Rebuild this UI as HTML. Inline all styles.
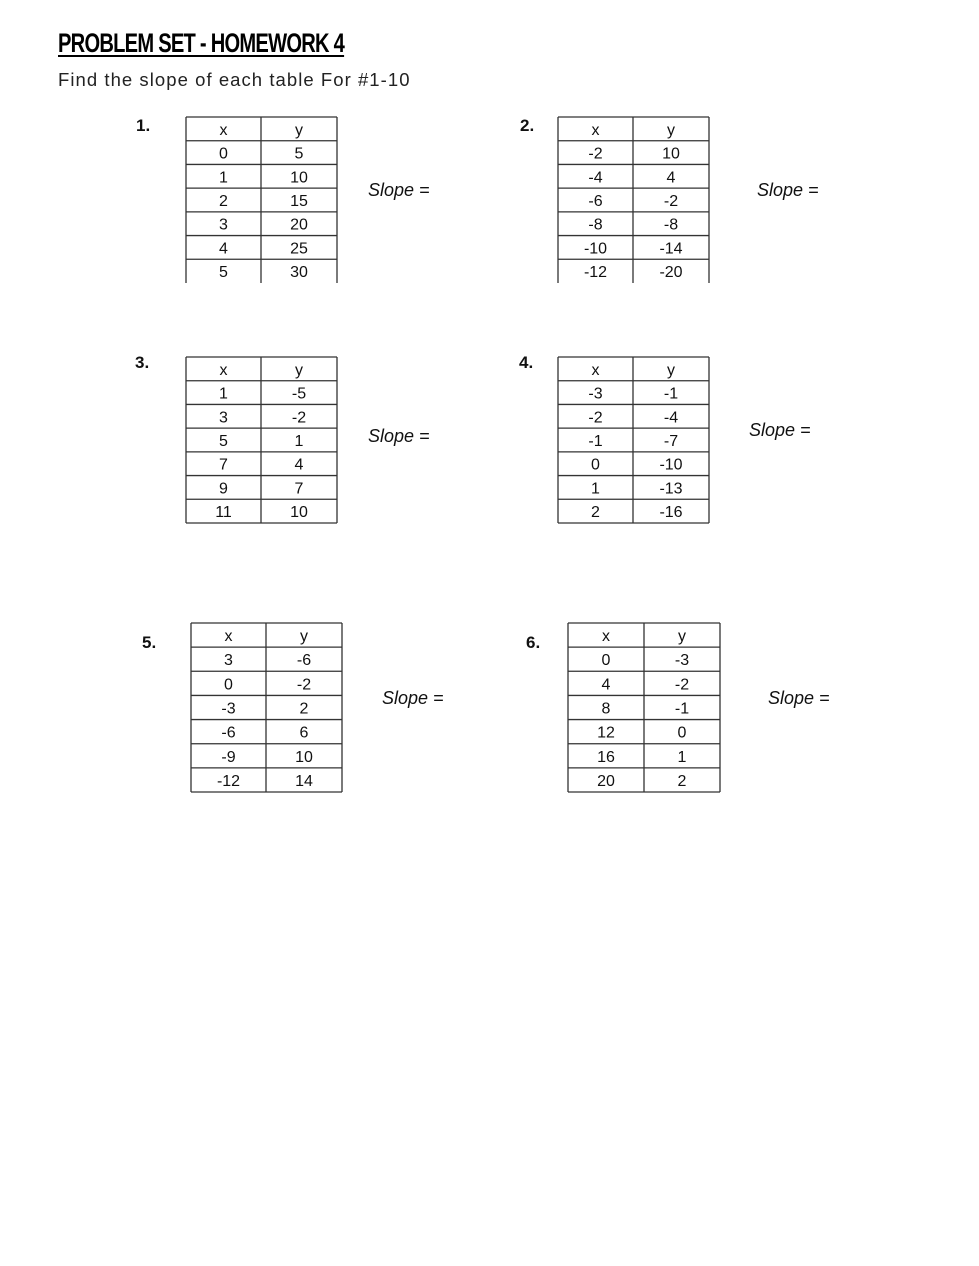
<!DOCTYPE html>
<html><head><meta charset="utf-8"><style>
body{margin:0;background:#fff;width:979px;height:1266px;overflow:hidden;position:relative}
h1{position:absolute;left:58px;top:28px;margin:0;font:bold 27px "Liberation Sans Narrow","Liberation Sans",sans-serif;letter-spacing:-1px;text-decoration:underline;text-decoration-thickness:2px;text-underline-offset:3px;color:#000;transform:scaleX(0.745);transform-origin:left}
.sub{position:absolute;left:58px;top:69px;font:18.5px "Liberation Sans",sans-serif;letter-spacing:1.05px;color:#222}
svg{position:absolute;left:0;top:0}
svg text{font-family:"Liberation Sans",sans-serif;font-size:16px;fill:#111}
</style></head><body>
<h1>PROBLEM SET - HOMEWORK 4</h1>
<div class="sub">Find the slope of each table For #1-10</div>
<svg id="s" width="979" height="1266"></svg>
<script>
const s=document.getElementById('s');let h='';
function tbl(l,m,r,t,b,rows,open){
 const n=7,rh=(b-t)/n;
 h+=`<g stroke="#333" stroke-width="1.3" fill="none"><line x1="${l}" y1="${t}" x2="${r}" y2="${t}"/><line x1="${l}" y1="${t}" x2="${l}" y2="${b}"/><line x1="${m}" y1="${t}" x2="${m}" y2="${b}"/><line x1="${r}" y1="${t}" x2="${r}" y2="${b}"/>`;
 for(let i=1;i<(open?n:n+1);i++){const y=t+rh*i;h+=`<line x1="${l}" y1="${y}" x2="${r}" y2="${y}"/>`}
 h+='</g>';
 rows.forEach((rw,i)=>{const y=t+rh*i+rh/2+6;h+=`<text x="${(l+m)/2}" y="${y}" text-anchor="middle">${rw[0]}</text><text x="${(m+r)/2}" y="${y}" text-anchor="middle">${rw[1]}</text>`});
}
tbl(186,261,337,117,283,[['x','y'],[0,5],[1,10],[2,15],[3,20],[4,25],[5,30]],true);
tbl(558,633,709,117,283,[['x','y'],[-2,10],[-4,4],[-6,-2],[-8,-8],[-10,-14],[-12,-20]],true);
tbl(186,261,337,357,523,[['x','y'],[1,-5],[3,-2],[5,1],[7,4],[9,7],[11,10]],false);
tbl(558,633,709,357,523,[['x','y'],[-3,-1],[-2,-4],[-1,-7],[0,-10],[1,-13],[2,-16]],false);
tbl(191,266,342,623,792,[['x','y'],[3,-6],[0,-2],[-3,2],[-6,6],[-9,10],[-12,14]],false);
tbl(568,644,720,623,792,[['x','y'],[0,-3],[4,-2],[8,-1],[12,0],[16,1],[20,2]],false);
[[136,131,'1.'],[520,131,'2.'],[135,368,'3.'],[519,368,'4.'],[142,648,'5.'],[526,648,'6.']].forEach(a=>h+=`<text x="${a[0]}" y="${a[1]}" font-weight="bold" style="font-size:17px">${a[2]}</text>`);
[[368,196],[757,196],[368,442],[749,436],[382,704],[768,704]].forEach(a=>h+=`<text x="${a[0]}" y="${a[1]}" font-style="italic" style="font-size:18px">Slope =</text>`);
s.innerHTML=h;
</script>
</body></html>
